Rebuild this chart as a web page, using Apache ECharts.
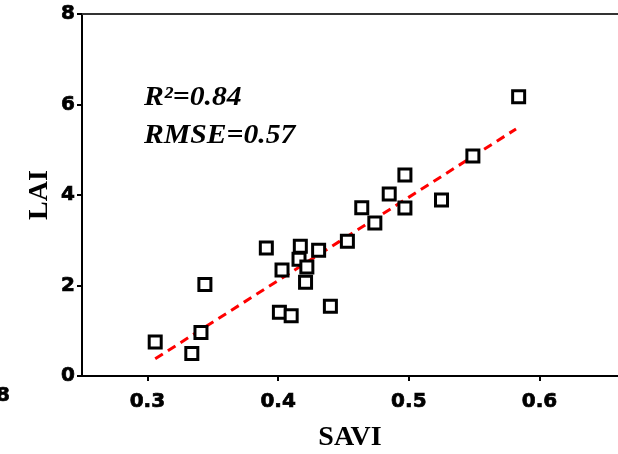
<!DOCTYPE html>
<html>
<head>
<meta charset="utf-8">
<script src="https://cdn.jsdelivr.net/npm/echarts@6/dist/echarts.min.js"></script>
<style>
  html, body { margin: 0; padding: 0; background: #fff; }
  #main { width: 618px; height: 454px; }
</style>
</head>
<body>
<div id="main"></div>
<script>
// measured points (SAVI vs LAI)
var saviValues = [0.306, 0.334, 0.341, 0.344, 0.391, 0.403, 0.401, 0.410, 0.417, 0.416, 0.422, 0.421,
                  0.431, 0.440, 0.453, 0.464, 0.474, 0.485, 0.497, 0.497, 0.525, 0.549, 0.584];
var laiValues  = [0.75, 0.50, 0.96, 2.02, 2.83, 2.34, 1.41, 1.33, 2.87, 2.58, 2.41, 2.07,
                  2.78, 1.54, 2.98, 3.72, 3.38, 4.02, 4.44, 3.71, 3.89, 4.86, 6.17];
// regression line ends
var fitX = [0.306, 0.582];
var fitY = [0.38, 5.46];
var xTicks = [0.3, 0.4, 0.5, 0.6];
var yTicks = [0, 2, 4, 6, 8];
var statLabels = ['R\u00b2=0.84', 'RMSE=0.57'];

var myChart = echarts.init(document.getElementById('main'));

var points = saviValues.map(function (x, i) { return [x, laiValues[i]]; });
var fitLine = fitX.map(function (x, i) { return [x, fitY[i]]; });

// bold digits, thickened a bit with a stroke
var tickFont = { fontFamily: 'DejaVu Sans', fontWeight: 'bold', fontSize: 20, color: '#000',
                 textBorderColor: '#000', textBorderWidth: 0.7 };
var nameFont = { fontFamily: 'Liberation Serif', fontWeight: 'bold', fontSize: 28, color: '#000' };
var statFont = 'italic bold 27px "Liberation Serif"';

var option = {
  animation: false,
  backgroundColor: '#fff',
  grid: { left: 82, top: 14, right: 0, bottom: 78, outerBoundsMode: 'none', containLabel: false },
  xAxis: [
    {
      type: 'value',
      min: 0.25,
      max: 0.66,
      position: 'bottom',
      name: 'SAVI',
      nameLocation: 'middle',
      nameGap: 48,
      nameMoveOverlap: false,
      nameTextStyle: nameFont,
      splitLine: { show: false },
      axisLine: { onZero: false, lineStyle: { color: '#000', width: 2 } },
      axisTick: { show: true, length: 5, customValues: xTicks, lineStyle: { color: '#000', width: 2 } },
      axisLabel: Object.assign({ margin: 16, customValues: xTicks, formatter: function (v) { return v.toFixed(1); } }, tickFont)
    },
    {
      type: 'value',
      min: 0.25,
      max: 0.66,
      position: 'top',
      splitLine: { show: false },
      axisLine: { onZero: false, lineStyle: { color: '#333', width: 2 } },
      axisTick: { show: false },
      axisLabel: { show: false }
    }
  ],
  yAxis: {
    type: 'value',
    min: 0,
    max: 8,
    interval: 2,
    name: 'LAI',
    nameLocation: 'middle',
    nameGap: 28,
    nameMoveOverlap: false,
    nameTextStyle: nameFont,
    splitLine: { show: false },
    axisLine: { show: true, onZero: false, lineStyle: { color: '#000', width: 2 } },
    axisTick: { show: true, length: 5, lineStyle: { color: '#000', width: 2 } },
    axisLabel: Object.assign({ margin: 7, customValues: yTicks }, tickFont)
  },
  series: [
    {
      name: 'fit',
      type: 'line',
      data: fitLine,
      symbol: 'none',
      z: 1,
      lineStyle: { color: '#ff0000', width: 3, type: [9, 6] }
    },
    {
      name: 'points',
      type: 'scatter',
      data: points,
      symbol: 'rect',
      symbolSize: 12,
      z: 2,
      itemStyle: { color: '#fff', borderColor: '#000', borderWidth: 3, opacity: 1 }
    }
  ],
  graphic: [
    {
      type: 'text', x: 144, y: 85, scaleX: 1.1,
      style: { text: statLabels[0], font: statFont, fill: '#000' }
    },
    {
      type: 'text', x: 144, y: 123, scaleX: 1.1,
      style: { text: statLabels[1], font: statFont, fill: '#000' }
    },
    {
      type: 'text', x: -4, y: 386,
      style: { text: '8', font: 'bold 20px "DejaVu Sans"', fill: '#000', stroke: '#000', lineWidth: 0.7 }
    }
  ]
};

myChart.setOption(option);
</script>
</body>
</html>
